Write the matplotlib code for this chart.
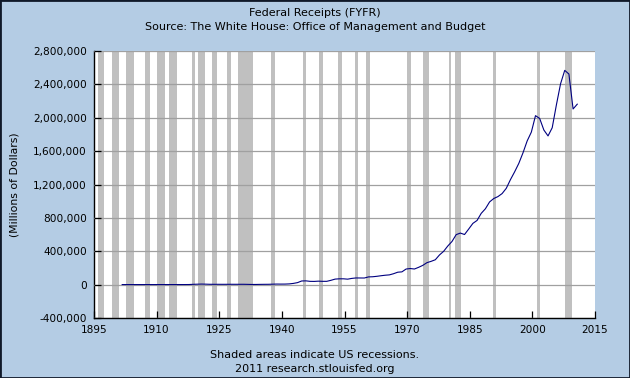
import matplotlib
matplotlib.use("Agg")
import matplotlib.pyplot as plt
from matplotlib.patches import Rectangle
from matplotlib.ticker import FuncFormatter

# Federal receipts by fiscal year, millions of dollars
years = list(range(1901, 2011))
receipts = [
    588, 562, 562, 541, 544, 595, 666, 602, 604, 676,
    702, 693, 714, 725, 683, 761, 1101, 3645, 5130, 6649,
    5571, 4026, 3853, 3871, 3641, 3795, 4013, 3900, 3862, 4058,
    3116, 1924, 1997, 2955, 3609, 3923, 5387, 6751, 6295, 6548,
    8712, 14634, 24001, 43747, 45159, 39296, 38514, 41560, 39415, 39443,
    51616, 66167, 69608, 69701, 65451, 74587, 79990, 79636, 79249, 92492,
    94388, 99676, 106560, 112613, 116817, 130835, 148822, 152973, 186882, 192807,
    187139, 207309, 230799, 263224, 279090, 298060, 355559, 399561, 463302, 517112,
    599272, 617766, 600562, 666438, 734037, 769155, 854288, 909238, 991105, 1031958,
    1054988, 1091208, 1154335, 1258566, 1351790, 1453053, 1579232, 1721728, 1827452, 2025191,
    1991082, 1853136, 1782314, 1880114, 2153611, 2406869, 2567985, 2523991, 2104989, 2162706,
]
fy_end = 0.75  # fiscal year plotted near its end

# NBER recessions (decimal years)
rec_start = [1895.92, 1899.42, 1902.67, 1907.33, 1910.0, 1913.0, 1918.58, 1920.0,
             1923.33, 1926.75, 1929.58, 1937.33, 1945.08, 1948.83, 1953.5, 1957.58,
             1960.25, 1969.92, 1973.83, 1980.0, 1981.5, 1990.5, 2001.17, 2007.92]
rec_end = [1897.42, 1900.92, 1904.58, 1908.42, 1912.0, 1914.92, 1919.17, 1921.5,
           1924.5, 1927.83, 1933.17, 1938.42, 1945.75, 1949.75, 1954.33, 1958.25,
           1961.08, 1970.83, 1975.17, 1980.5, 1982.83, 1991.17, 2001.83, 2009.42]

x_ticks = [1895, 1910, 1925, 1940, 1955, 1970, 1985, 2000, 2015]
y_ticks = [-400000, 0, 400000, 800000, 1200000, 1600000, 2000000, 2400000, 2800000]

bg = "#b4cce4"
plt.rcParams["font.family"] = "DejaVu Sans"

fig = plt.figure(figsize=(6.3, 3.78), dpi=100, facecolor=bg)
ax = fig.add_axes([94 / 630, 1 - 318 / 378, 501 / 630, 267 / 378])
ax.set_facecolor("white")

for s, e in zip(rec_start, rec_end):
    ax.axvspan(s, e, color="#c0c0c0", lw=0, zorder=1)

ax.grid(axis="y", color="#a0a0a0", lw=0.9, zorder=2)
ax.set_axisbelow(False)

ax.plot([y + fy_end for y in years], receipts, color="#000080", lw=0.8, zorder=3)

ax.set_xlim(1895, 2015)
ax.set_ylim(-400000, 2800000)
ax.set_xticks(x_ticks)
ax.set_yticks(y_ticks)
ax.yaxis.set_major_formatter(FuncFormatter(lambda v, p: f"{int(v):,}"))
ax.tick_params(direction="in", length=5, width=0.9, labelsize=7.6, color="black")
ax.tick_params(axis="y", pad=5)
ax.tick_params(axis="x", pad=5)
for side in ["top", "right"]:
    ax.spines[side].set_visible(False)
for side in ["left", "bottom"]:
    ax.spines[side].set_linewidth(1.0)
ax.set_ylabel("(Millions of Dollars)", fontsize=7.8)
ax.yaxis.set_label_coords(-0.149, 0.5)

fig.text(0.5, 1 - 13 / 378, "Federal Receipts (FYFR)", ha="center", va="center", fontsize=8)
fig.text(0.5, 1 - 27 / 378, "Source: The White House: Office of Management and Budget",
         ha="center", va="center", fontsize=8)
fig.text(0.5, 1 - 355 / 378, "Shaded areas indicate US recessions.", ha="center", va="center", fontsize=8)
fig.text(0.5, 1 - 369 / 378, "2011 research.stlouisfed.org", ha="center", va="center", fontsize=8)

fig.patches.append(Rectangle((0, 0), 1, 1, transform=fig.transFigure, fill=False,
                             edgecolor="#101828", lw=2.0))

plt.savefig("out.png", dpi=100, facecolor=bg)
